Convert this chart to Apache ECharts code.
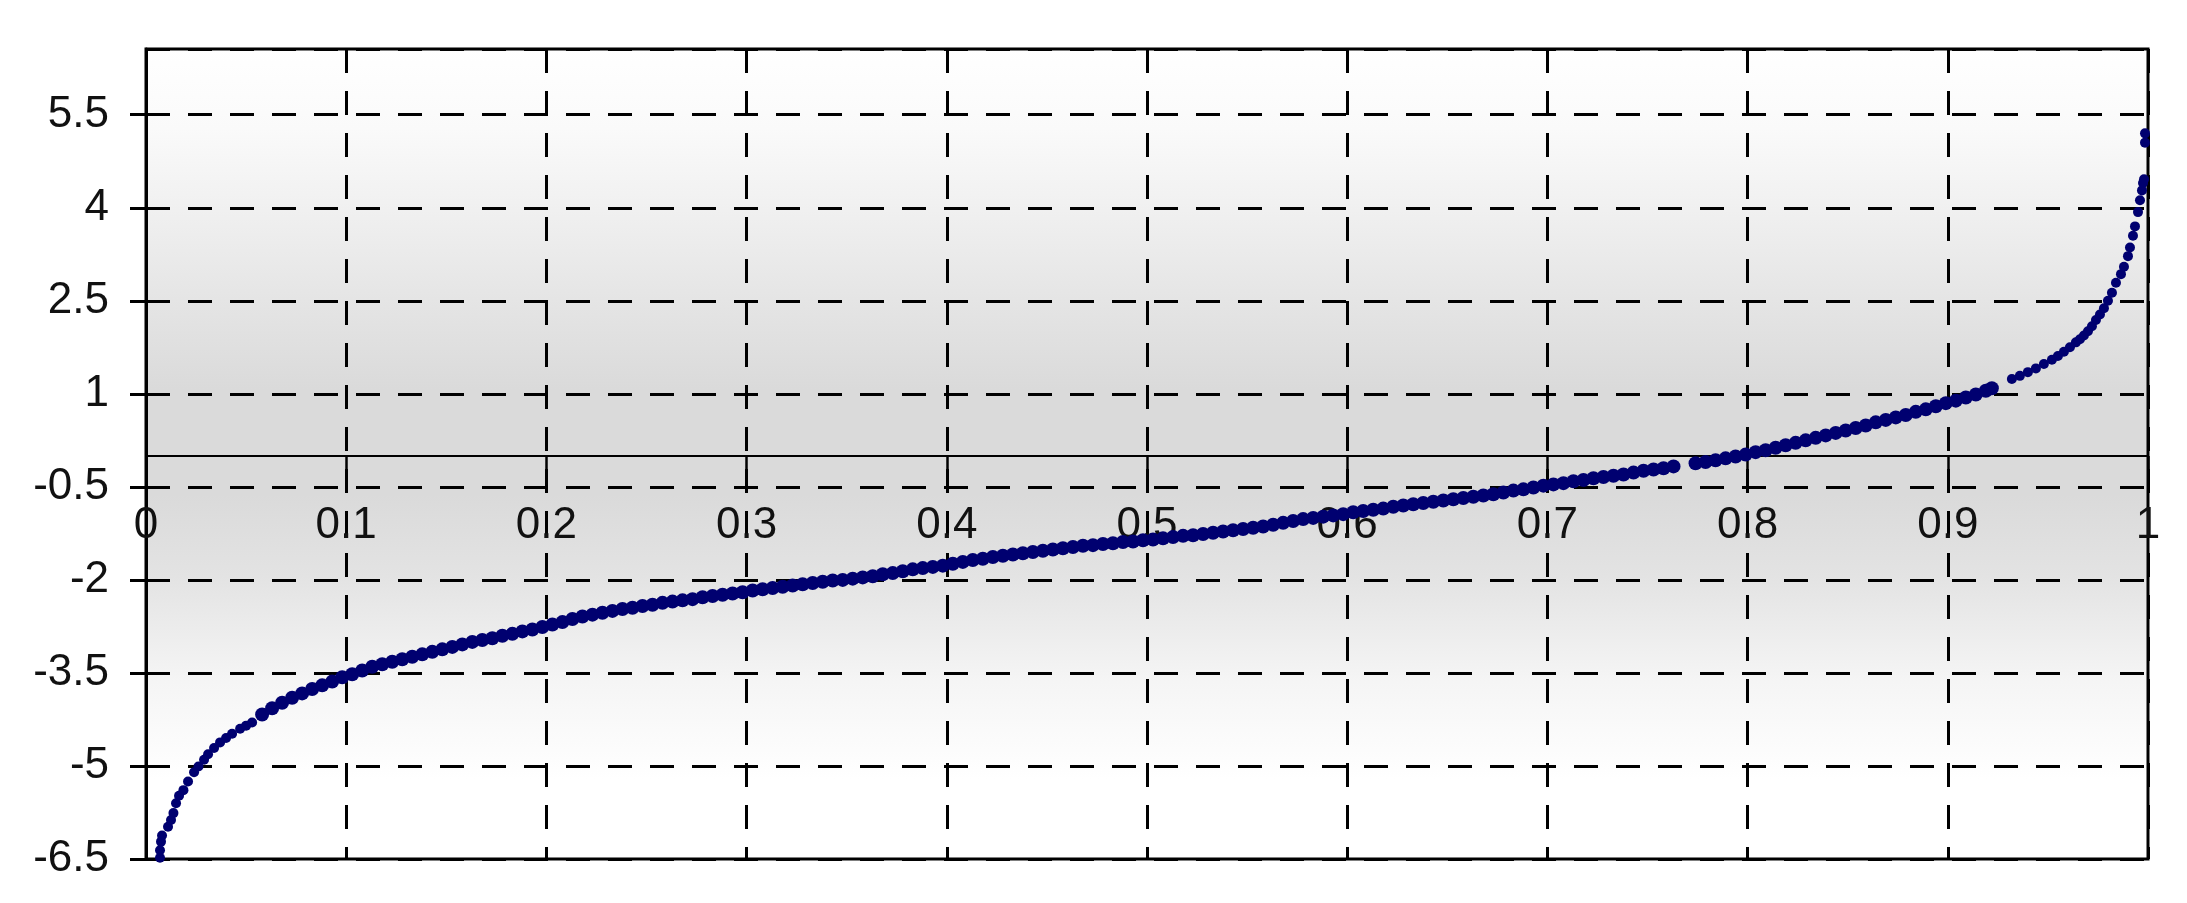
<!DOCTYPE html>
<html>
<head>
<meta charset="utf-8">
<script src="https://cdn.jsdelivr.net/npm/echarts@6/dist/echarts.min.js"></script>
<style>
  html, body { margin: 0; padding: 0; background: #fff; }
  #chart { width: 2187px; height: 903px; }
</style>
</head>
<body>
<div id="chart"></div>
<script>
// sorted sample: [x, y]
const leftTail = [
  [0.007, -6.48], [0.007, -6.36], [0.0075, -6.22], [0.008, -6.12], [0.011, -5.98],
  [0.0125, -5.87], [0.0137, -5.76], [0.015, -5.6], [0.0165, -5.48], [0.0187, -5.39],
  [0.021, -5.25], [0.024, -5.1], [0.0262, -5.01], [0.029, -4.9], [0.031, -4.81],
  [0.034, -4.71], [0.037, -4.62], [0.04, -4.55], [0.043, -4.48], [0.047, -4.4],
  [0.05, -4.35], [0.053, -4.3]
]
const body = [
  [0.058, -4.17], [0.063, -4.07], [0.068, -3.98], [0.073, -3.9], [0.078, -3.83],
  [0.083, -3.76], [0.088, -3.7], [0.093, -3.64], [0.098, -3.57], [0.103, -3.52],
  [0.108, -3.46], [0.113, -3.4], [0.118, -3.36], [0.123, -3.32], [0.128, -3.28],
  [0.133, -3.24], [0.138, -3.2], [0.143, -3.16], [0.148, -3.12], [0.153, -3.08],
  [0.158, -3.04], [0.163, -3.0], [0.168, -2.97], [0.173, -2.94], [0.178, -2.9],
  [0.183, -2.87], [0.188, -2.83], [0.193, -2.8], [0.198, -2.76], [0.203, -2.72],
  [0.208, -2.68], [0.213, -2.63], [0.218, -2.59], [0.223, -2.56], [0.228, -2.53],
  [0.233, -2.5], [0.238, -2.47], [0.243, -2.45], [0.248, -2.42], [0.253, -2.4],
  [0.258, -2.37], [0.263, -2.35], [0.268, -2.33], [0.273, -2.31], [0.278, -2.28],
  [0.283, -2.26], [0.288, -2.24], [0.293, -2.22], [0.298, -2.2], [0.303, -2.17],
  [0.308, -2.15], [0.313, -2.13], [0.318, -2.11], [0.323, -2.09], [0.328, -2.07],
  [0.333, -2.05], [0.338, -2.03], [0.343, -2.01], [0.348, -2.0], [0.353, -1.98],
  [0.358, -1.96], [0.363, -1.94], [0.368, -1.91], [0.373, -1.89], [0.378, -1.86],
  [0.383, -1.83], [0.388, -1.81], [0.393, -1.79], [0.398, -1.77], [0.403, -1.74],
  [0.408, -1.71], [0.413, -1.68], [0.418, -1.66], [0.423, -1.63], [0.428, -1.61],
  [0.433, -1.59], [0.438, -1.57], [0.443, -1.55], [0.448, -1.53], [0.453, -1.51],
  [0.458, -1.49], [0.463, -1.47], [0.468, -1.45], [0.473, -1.44], [0.478, -1.42],
  [0.483, -1.41], [0.488, -1.39], [0.493, -1.38], [0.498, -1.36], [0.503, -1.35],
  [0.508, -1.33], [0.513, -1.31], [0.518, -1.29], [0.523, -1.28], [0.528, -1.26],
  [0.533, -1.24], [0.538, -1.22], [0.543, -1.2], [0.548, -1.18], [0.553, -1.16],
  [0.558, -1.14], [0.563, -1.11], [0.568, -1.08], [0.573, -1.05], [0.578, -1.02],
  [0.583, -1.0], [0.588, -0.98], [0.593, -0.96], [0.598, -0.94], [0.603, -0.91],
  [0.608, -0.89], [0.613, -0.87], [0.618, -0.85], [0.623, -0.82], [0.628, -0.8],
  [0.633, -0.78], [0.638, -0.76], [0.643, -0.74], [0.648, -0.72], [0.653, -0.7],
  [0.658, -0.68], [0.663, -0.66], [0.668, -0.64], [0.673, -0.62], [0.678, -0.59],
  [0.683, -0.56], [0.688, -0.54], [0.693, -0.51], [0.698, -0.48], [0.703, -0.46],
  [0.708, -0.44], [0.713, -0.41], [0.718, -0.39], [0.723, -0.36], [0.728, -0.34],
  [0.733, -0.32], [0.738, -0.3], [0.743, -0.27], [0.748, -0.24], [0.753, -0.22],
  [0.758, -0.2], [0.763, -0.17], [0.774, -0.12], [0.779, -0.1], [0.784, -0.07],
  [0.789, -0.04], [0.794, -0.01], [0.799, 0.02], [0.804, 0.06], [0.809, 0.09],
  [0.814, 0.13], [0.819, 0.17], [0.824, 0.21], [0.829, 0.25], [0.834, 0.29],
  [0.839, 0.33], [0.844, 0.37], [0.849, 0.41], [0.854, 0.45], [0.859, 0.49],
  [0.864, 0.54], [0.869, 0.58], [0.874, 0.62], [0.879, 0.66], [0.884, 0.71],
  [0.889, 0.75], [0.894, 0.8], [0.899, 0.85], [0.904, 0.89], [0.909, 0.94],
  [0.914, 0.99], [0.919, 1.05], [0.922, 1.09]
]
const rightTail = [
  [0.932, 1.24], [0.936, 1.29], [0.94, 1.35], [0.944, 1.41], [0.948, 1.48],
  [0.952, 1.55], [0.955, 1.61], [0.958, 1.68], [0.961, 1.75], [0.964, 1.83],
  [0.966, 1.88], [0.968, 1.94], [0.97, 2.01], [0.972, 2.09], [0.974, 2.19],
  [0.976, 2.28], [0.978, 2.38], [0.98, 2.5], [0.982, 2.63], [0.984, 2.79],
  [0.9865, 2.93], [0.988, 3.05], [0.99, 3.22], [0.991, 3.36], [0.9925, 3.55],
  [0.9935, 3.7], [0.995, 3.93], [0.996, 4.12], [0.997, 4.28], [0.9975, 4.4],
  [0.998, 4.46], [0.9985, 5.05], [0.9985, 5.2]
]

const chart = echarts.init(document.getElementById('chart'))
const font = 'Liberation Sans, Arial, sans-serif'
const dotColor = '#000070'
const dashed = { color: '#000', width: 3, type: [24, 18] }

const gridTop = 49
const gridBottom = 44
const yMin = -6.5
const yMax = 6.56
// the x axis sits on y = 0: shift it up from the bottom edge by that much
const plotH = 903 - gridTop - gridBottom
const zeroShift = Math.round(plotH * (0 - yMin) / (yMax - yMin))

chart.setOption({
  animation: false,
  backgroundColor: '#fff',
  grid: {
    left: 146,
    right: 39,
    top: gridTop,
    bottom: gridBottom,
    show: true,
    borderColor: '#000',
    borderWidth: 3,
    outerBoundsMode: 'none',
    backgroundColor: {
      type: 'linear', x: 0, y: 0, x2: 0, y2: 1,
      colorStops: [
        { offset: 0, color: '#ffffff' },
        { offset: 0.1, color: '#fafafa' },
        { offset: 0.3, color: '#e6e6e6' },
        { offset: 0.42, color: '#dadada' },
        { offset: 0.55, color: '#dadada' },
        { offset: 0.65, color: '#e3e3e3' },
        { offset: 0.78, color: '#f5f5f5' },
        { offset: 0.9, color: '#ffffff' },
        { offset: 1, color: '#ffffff' }
      ]
    }
  },
  xAxis: {
    type: 'value',
    position: 'bottom',
    offset: -zeroShift,
    min: 0,
    max: 1,
    interval: 0.1,
    axisLine: { show: true, onZero: false, lineStyle: { color: '#000', width: 2 } },
    axisTick: { show: true, inside: false, length: 27, lineStyle: { color: '#000', width: 2.5 } },
    axisLabel: { show: true, margin: 48, fontSize: 44, fontFamily: font, color: '#111' },
    splitLine: { show: true, lineStyle: dashed }
  },
  yAxis: {
    type: 'value',
    min: yMin,
    max: yMax,
    interval: 1.5,
    axisLine: { show: true, onZero: false, lineStyle: { color: '#000', width: 3 } },
    axisTick: { show: true, inside: false, length: 16, lineStyle: { color: '#000', width: 3 } },
    axisLabel: { margin: 37, fontSize: 44, fontFamily: font, color: '#111', showMaxLabel: false },
    splitLine: { show: true, lineStyle: dashed }
  },
  series: [
    {
      type: 'scatter',
      data: leftTail,
      symbol: 'circle',
      symbolSize: 10,
      itemStyle: { color: dotColor, opacity: 1 }
    },
    {
      type: 'scatter',
      data: body,
      symbol: 'circle',
      symbolSize: 14,
      itemStyle: { color: dotColor, opacity: 1 }
    },
    {
      type: 'scatter',
      data: rightTail,
      symbol: 'circle',
      symbolSize: 10,
      itemStyle: { color: dotColor, opacity: 1 }
    }
  ]
})
</script>
</body>
</html>
